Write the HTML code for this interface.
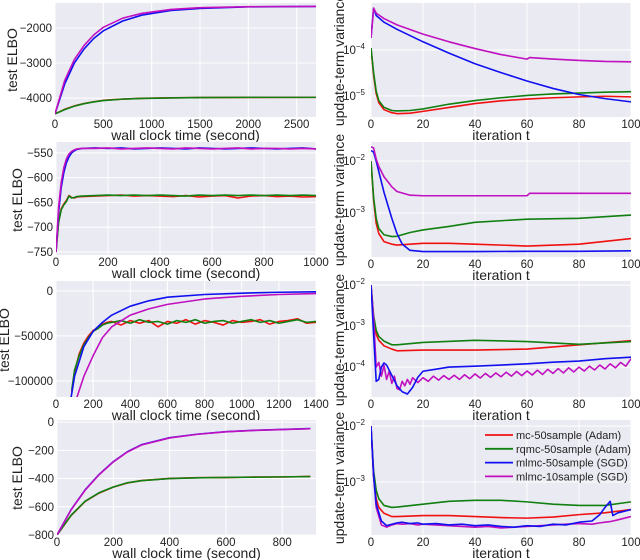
<!DOCTYPE html>
<html><head><meta charset="utf-8"><style>
body{margin:0;background:#fff;}
svg{display:block;font-family:"Liberation Sans",sans-serif;}
</style></head><body>
<svg id="fig" width="640" height="560" viewBox="0 0 640 560" xmlns="http://www.w3.org/2000/svg"></svg>
<script>
// ---------- Panel 1 (left, row 1) ----------
const p1T = [0,100,200,300,400,500,700,900,1200,1500,2000,2700];
const p1Magenta = [-4450,-3500,-2900,-2500,-2200,-1980,-1720,-1580,-1470,-1420,-1390,-1385];
const p1Blue = [-4450,-3600,-3000,-2600,-2300,-2080,-1800,-1630,-1500,-1440,-1395,-1385];
const p1Green = [-4450,-4330,-4230,-4160,-4110,-4070,-4030,-4010,-3995,-3985,-3980,-3980];
const p1Red = [-4450,-4320,-4225,-4155,-4105,-4065,-4028,-4008,-3993,-3984,-3981,-3980];
const p1XTicks = [0,500,1000,1500,2000,2500];
const p1YTicks = [-4000,-3000,-2000];
// ---------- Panel 2 ----------
const p2T = [0,10,20,30,40,50,60,70,80,100,150,200,250,300,350,400,450,500,550,600,650,700,750,800,850,900,950,1000];
const p2Magenta = [-750,-660,-610,-580,-562,-552,-547,-544,-542,-541,-541,-540,-542,-541,-540,-541,-542,-540,-541,-542,-541,-540,-542,-541,-541,-542,-541,-542];
const p2Blue = [-750,-670,-620,-590,-570,-558,-550,-546,-543,-541,-540,-541,-540,-542,-541,-540,-541,-542,-540,-541,-542,-541,-540,-541,-542,-541,-540,-542];
const p2Green = [-750,-690,-665,-655,-648,-637,-641,-640,-638,-637,-636,-635,-636,-635,-636,-635,-636,-637,-635,-636,-635,-636,-635,-636,-635,-636,-635,-636];
const p2Red = [-750,-688,-663,-653,-646,-636,-640,-641,-639,-638,-637,-636,-635,-637,-636,-637,-638,-636,-639,-637,-636,-641,-637,-636,-638,-637,-639,-638];
const p2XTicks = [0,200,400,600,800,1000];
const p2YTicks = [-750,-700,-650,-600,-550];
// ---------- Panel 3 ----------
const p3TBlue = [80,100,150,200,250,300,400,500,600,800,1000,1200,1400];
const p3Blue = [-120000,-95000,-62000,-45000,-35000,-27000,-17000,-11000,-7000,-4000,-2500,-1500,-1000];
const p3TMagenta = [110,150,200,250,300,400,500,600,800,1000,1200,1400];
const p3Magenta = [-120000,-95000,-72000,-52000,-40000,-27000,-20000,-15000,-9000,-6000,-4000,-3000];
const p3TNoisy = [85,100,125,150,175,200,225,250,275,300,350,400,450,500,550,600,650,700,750,800,850,900,950,1000,1050,1100,1150,1200,1250,1300,1350,1400];
const p3Green = [-110000,-88000,-72000,-60000,-52000,-45000,-42000,-38000,-36000,-35000,-33000,-36000,-32000,-35000,-34000,-37000,-33000,-35000,-32000,-36000,-34000,-33000,-36000,-34000,-32000,-35000,-33000,-36000,-34000,-32000,-35000,-34000];
const p3Red = [-112000,-90000,-70000,-58000,-50000,-44000,-41000,-37000,-35000,-34000,-38000,-33000,-36000,-33000,-40000,-34000,-36000,-32000,-37000,-33000,-35000,-38000,-33000,-35000,-34000,-32000,-37000,-34000,-33000,-31000,-36000,-35000];
const p3XTicks = [0,200,400,600,800,1000,1200,1400];
const p3YTicks = [-100000,-50000,0];
// ---------- Panel 4 ----------
const p4T = [0,50,100,150,200,250,300,400,500,600,700,800,900];
const p4Blue = [-800,-620,-480,-370,-280,-210,-160,-110,-85,-68,-58,-52,-46];
const p4Magenta = [-800,-622,-482,-372,-282,-212,-162,-112,-86,-69,-59,-53,-47];
const p4Green = [-800,-660,-560,-500,-460,-430,-415,-400,-395,-392,-390,-388,-386];
const p4Red = [-800,-662,-562,-502,-461,-431,-414,-399,-394,-393,-389,-389,-385];
const p4XTicks = [0,200,400,600,800];
const p4YTicks = [-800,-600,-400,-200,0];
// ---------- Right panels (variance, log scale) ----------
const r1TM = [0,1,2,5,10,20,30,40,50,60,61,70,80,90,100];
const r1Magenta = [1.82e-4,8.1e-4,6.3e-4,4.8e-4,3.5e-4,2.2e-4,1.5e-4,1.07e-4,7.9e-5,6.3e-5,6.8e-5,6.3e-5,5.9e-5,5.6e-5,5.5e-5];
const r1TB = [0,1,2,5,10,20,30,40,50,60,70,80,90,100];
const r1Blue = [1.82e-4,8.1e-4,5.6e-4,4.0e-4,2.8e-4,1.5e-4,8.5e-5,5.0e-5,3.2e-5,2.1e-5,1.45e-5,1.07e-5,8.7e-6,7.4e-6];
const r1TG = [0,1,2,3,5,8,10,15,20,30,40,50,60,70,80,90,100];
const r1Green = [1.1e-4,3.2e-5,1.26e-5,7.9e-6,5.6e-6,4.8e-6,4.7e-6,4.8e-6,5.2e-6,6.6e-6,7.9e-6,9.1e-6,1.02e-5,1.1e-5,1.15e-5,1.2e-5,1.23e-5];
const r1Red = [1.1e-4,2.8e-5,1.12e-5,7.1e-6,5.0e-6,4.3e-6,4.1e-6,4.2e-6,4.6e-6,5.6e-6,6.8e-6,7.8e-6,8.5e-6,9.1e-6,9.5e-6,9.8e-6,9.5e-6];
const r1YTicks = [-5,-4];

const r2TM = [0,1,2,3,5,8,10,15,20,40,60,61,80,100];
const r2Magenta = [1.9e-2,1.8e-2,1.1e-2,7.9e-3,5.0e-3,3.2e-3,2.6e-3,2.2e-3,2.15e-3,2.15e-3,2.15e-3,2.4e-3,2.4e-3,2.4e-3];
const r2TB = [0,1,2,5,8,10,12,15,20,40,60,80,100];
const r2Blue = [1.6e-2,1.5e-2,1e-2,2.5e-3,7.9e-4,4.0e-4,2.5e-4,1.9e-4,1.8e-4,1.8e-4,1.82e-4,1.82e-4,1.86e-4];
const r2TG = [0,1,2,3,5,8,10,15,20,30,40,60,80,100];
const r2Green = [1e-2,2e-3,7.9e-4,5e-4,3.8e-4,3.5e-4,3.55e-4,4.2e-4,4.7e-4,5.5e-4,6.6e-4,7.6e-4,7.9e-4,9.1e-4];
const r2Red = [1e-2,1.8e-3,6.3e-4,4e-4,2.8e-4,2.5e-4,2.4e-4,2.5e-4,2.6e-4,2.6e-4,2.5e-4,2.3e-4,2.5e-4,3.2e-4];
const r2YTicks = [-3,-2];

const r3TRG = [0,1,2,3,5,8,10,20,40,60,80,100];
const r3Red = [1e-2,1.6e-3,6.3e-4,4.5e-4,3.3e-4,2.75e-4,2.5e-4,2.6e-4,2.6e-4,2.75e-4,3.5e-4,4.4e-4];
const r3Green = [1e-2,1.8e-3,7.9e-4,5.6e-4,4.3e-4,3.5e-4,3.5e-4,4e-4,4.5e-4,4.2e-4,3.6e-4,4.2e-4];
const r3TB = [0,1,2,3,4,5,6,8,10,12,14,16,18,20,25,30,40,50,60,70,80,90,100];
const r3Blue = [1e-2,6.3e-4,4.5e-5,5e-5,1e-4,1.26e-4,1.12e-4,6.3e-5,3.5e-5,2.5e-5,2.2e-5,3.2e-5,5.6e-5,7.9e-5,8.9e-5,1e-4,1.05e-4,1.12e-4,1.2e-4,1.32e-4,1.4e-4,1.6e-4,1.74e-4];
const r3TM = [0,1,2,3,4,5,6,7,8,9,10,11,12,13,14,15,16,18,20,22,24,26,28,30,32,34,36,38,40,42,44,46,48,50,52,54,56,58,60,62,64,66,68,70,72,74,76,78,80,82,84,86,88,90,92,94,96,98,100];
const r3Magenta = [1e-2,1.6e-3,1e-4,1.3e-4,6e-5,1.1e-4,5e-5,8e-5,4e-5,6e-5,3e-5,2.8e-5,4.5e-5,3.5e-5,5e-5,3.8e-5,5.5e-5,4.2e-5,5.5e-5,4.5e-5,6e-5,4.8e-5,6.2e-5,5e-5,6.3e-5,5e-5,6.5e-5,5.2e-5,6.8e-5,5.4e-5,7e-5,5.6e-5,7.2e-5,5.8e-5,7.5e-5,6e-5,7.8e-5,6.2e-5,8e-5,6.4e-5,8.4e-5,6.6e-5,8.8e-5,7e-5,9.2e-5,7.2e-5,9.6e-5,7.6e-5,1e-4,8e-5,1.05e-4,8.5e-5,1.12e-4,9e-5,1.2e-4,9.6e-5,1.3e-4,1.05e-4,1.6e-4];
const r3YTicks = [-4,-3,-2];

const r4TRG = [0,1,2,3,5,8,10,20,30,40,50,60,70,80,90,100];
const r4Green = [1e-2,1.6e-3,7.1e-4,5e-4,3.8e-4,3.5e-4,3.55e-4,4e-4,4.5e-4,4.7e-4,4.7e-4,4.4e-4,4e-4,3.8e-4,3.8e-4,4.4e-4];
const r4Red = [1e-2,1.26e-3,5e-4,3.5e-4,2.75e-4,2.4e-4,2.4e-4,2.5e-4,2.5e-4,2.4e-4,2.3e-4,2.25e-4,2.35e-4,2.6e-4,2.8e-4,3.2e-4];
const r4TBM = [0,1,2,4,6,8,10,12,15,18,20,25,30,35,40,45,50,55,60,65,70,75,80,85,88,90,92,93,95,100];
const r4Blue = [1e-2,1.3e-3,4e-4,2e-4,1.65e-4,1.75e-4,1.85e-4,1.9e-4,1.8e-4,1.85e-4,1.75e-4,1.8e-4,1.7e-4,1.75e-4,1.65e-4,1.7e-4,1.6e-4,1.55e-4,1.65e-4,1.6e-4,1.75e-4,1.7e-4,1.9e-4,2e-4,2.6e-4,3.5e-4,4.5e-4,2.5e-4,2.8e-4,3.2e-4];
const r4Magenta = [1e-2,1.3e-3,3.5e-4,1.7e-4,1.55e-4,1.7e-4,1.8e-4,1.75e-4,1.8e-4,1.7e-4,1.75e-4,1.7e-4,1.65e-4,1.6e-4,1.55e-4,1.6e-4,1.5e-4,1.55e-4,1.6e-4,1.65e-4,1.7e-4,1.75e-4,1.8e-4,1.75e-4,1.85e-4,1.9e-4,1.95e-4,2.0e-4,2.1e-4,2.4e-4];
const r4YTicks = [-3,-2];
const iterTicks = [0,20,40,60,80,100];
const legendLabels = ["mc-50sample (Adam)","rqmc-50sample (Adam)","mlmc-50sample (SGD)","mlmc-10sample (SGD)"];

const COL = {red:"#f01010",green:"#108010",blue:"#1010f0",magenta:"#c010c0"};
const NS = "http://www.w3.org/2000/svg";
const svg = document.getElementById('fig');
let clipN = 0;
function mk(tag, attrs, parent){
  const e = document.createElementNS(NS, tag);
  for (const k in attrs) e.setAttribute(k, attrs[k]);
  (parent||svg).appendChild(e);
  return e;
}
function txt(x,y,s,anchor,size,parent,rot){
  const t = mk('text',{x:x,y:y,'font-size':size||11,'text-anchor':anchor||'middle',fill:'#222'},parent);
  if (rot) t.setAttribute('transform','rotate(-90 '+x+' '+y+')');
  t.textContent = s;
  return t;
}
function panel(name, box, xmin, xmax, ymin, ymax, isLog){
  const g = mk('g',{});
  
  
  const bg = mk('rect',{x:box.x0,y:box.y0,width:box.x1-box.x0,height:box.y1-box.y0,fill:'#eaeaf2'},g);
  
  
  const cid = 'clip'+(clipN++);
  const cp = mk('clipPath',{id:cid},g);
  mk('rect',{x:box.x0,y:box.y0,width:box.x1-box.x0,height:box.y1-box.y0},cp);
  const sx = v => box.x0 + (v-xmin)/(xmax-xmin)*(box.x1-box.x0);
  const sy = isLog ? (v => box.y1 - (Math.log10(v)-ymin)/(ymax-ymin)*(box.y1-box.y0))
                   : (v => box.y1 - (v-ymin)/(ymax-ymin)*(box.y1-box.y0));
  const syExp = e => box.y1 - (e-ymin)/(ymax-ymin)*(box.y1-box.y0);
  return {g, sx, sy, syExp, box, cid};
}
function xTicks(P, ticks, labelName){
  ticks.forEach(v=>{
    const x = P.sx(v);
    mk('line',{x1:x,x2:x,y1:P.box.y0,y2:P.box.y1,stroke:'#fff','stroke-width':1},P.g);
    const t = txt(x, P.box.y1+11, String(v), 'middle', 11.5, P.g);
    
    
  });
  const l = txt((P.box.x0+P.box.x1)/2, P.box.y1+23, labelName, 'middle', 14, P.g);
  
  
}
function yTicks(P, ticks){
  ticks.forEach(v=>{
    const y = P.sy(v);
    mk('line',{x1:P.box.x0,x2:P.box.x1,y1:y,y2:y,stroke:'#fff','stroke-width':1},P.g);
    const t = txt(P.box.x0-3, y+4, String(v).replace('-','\u2212'), 'end', 11.5, P.g);
    
    
  });
}
function yLogTicks(P, exps){
  exps.forEach(e=>{
    const y = P.syExp(e);
    mk('line',{x1:P.box.x0,x2:P.box.x1,y1:y,y2:y,stroke:'#fff','stroke-width':1},P.g);
    const t = mk('text',{x:P.box.x0-6,y:y+4,'font-size':11.5,'text-anchor':'end',fill:'#222'},P.g);
    
    
    t.appendChild(document.createTextNode('10'));
    const sp = document.createElementNS(NS,'tspan');
    sp.setAttribute('dy','-5'); sp.setAttribute('font-size','8');
    sp.textContent = '\u2212'+Math.abs(e);
    t.appendChild(sp);
  });
}
function series(P, xs, ys, color, name){
  const pts = xs.map((x,i)=>P.sx(x).toFixed(2)+','+P.sy(ys[i]).toFixed(2)).join(' ');
  const pl = mk('polyline',{points:pts,fill:'none',stroke:color,'stroke-width':1.6,'stroke-linejoin':'round','clip-path':'url(#'+P.cid+')'},P.g);
  
  
}
function yTitle(x, yc, s){
  const t = txt(x, yc, s, 'middle', 14, svg, true);
  
  
}

// Left panels
const L1 = panel('elbo-panel-1',{x0:55,x1:316,y0:3,y1:117},0,2700,-4540,-1286,false);
xTicks(L1,p1XTicks,'wall clock time (second)'); yTicks(L1,p1YTicks);
series(L1,p1T,p1Red,COL.red,'line-mc-50sample');
series(L1,p1T,p1Green,COL.green,'line-rqmc-50sample');
series(L1,p1T,p1Blue,COL.blue,'line-mlmc-50sample');
series(L1,p1T,p1Magenta,COL.magenta,'line-mlmc-10sample');
yTitle(17,60,'test ELBO');

const L2 = panel('elbo-panel-2',{x0:56,x1:316,y0:142,y1:255},0,1000,-756,-528,false);
xTicks(L2,p2XTicks,'wall clock time (second)'); yTicks(L2,p2YTicks);
series(L2,p2T,p2Red,COL.red,'line-mc-50sample');
series(L2,p2T,p2Green,COL.green,'line-rqmc-50sample');
series(L2,p2T,p2Blue,COL.blue,'line-mlmc-50sample');
series(L2,p2T,p2Magenta,COL.magenta,'line-mlmc-10sample');
yTitle(22,200,'test ELBO');

const L3 = panel('elbo-panel-3',{x0:56,x1:316,y0:281,y1:397},0,1400,-118000,11000,false);
xTicks(L3,p3XTicks,'wall clock time (second)'); yTicks(L3,p3YTicks);
series(L3,p3TNoisy,p3Red,COL.red,'line-mc-50sample');
series(L3,p3TNoisy,p3Green,COL.green,'line-rqmc-50sample');
series(L3,p3TMagenta,p3Magenta,COL.magenta,'line-mlmc-10sample');
series(L3,p3TBlue,p3Blue,COL.blue,'line-mlmc-50sample');
yTitle(9,340,'test ELBO');

const L4 = panel('elbo-panel-4',{x0:57,x1:316,y0:420,y1:535},0,920,-800,15,false);
xTicks(L4,p4XTicks,'wall clock time (second)'); yTicks(L4,p4YTicks);
series(L4,p4T,p4Red,COL.red,'line-mc-50sample');
series(L4,p4T,p4Green,COL.green,'line-rqmc-50sample');
series(L4,p4T,p4Blue,COL.blue,'line-mlmc-50sample');
series(L4,p4T,p4Magenta,COL.magenta,'line-mlmc-10sample');
yTitle(22,478,'test ELBO');

// Right panels
const R1 = panel('variance-panel-1',{x0:371,x1:631,y0:3,y1:117},0,100,-5.46,-2.98,true);
xTicks(R1,iterTicks,'iteration t'); yLogTicks(R1,r1YTicks);
series(R1,r1TG,r1Red,COL.red,'line-mc-50sample');
series(R1,r1TG,r1Green,COL.green,'line-rqmc-50sample');
series(R1,r1TB,r1Blue,COL.blue,'line-mlmc-50sample');
series(R1,r1TM,r1Magenta,COL.magenta,'line-mlmc-10sample');
yTitle(344,60,'update-term variance');

const R2 = panel('variance-panel-2',{x0:371,x1:631,y0:142,y1:257},0,100,-3.85,-1.63,true);
xTicks(R2,iterTicks,'iteration t'); yLogTicks(R2,r2YTicks);
series(R2,r2TG,r2Red,COL.red,'line-mc-50sample');
series(R2,r2TG,r2Green,COL.green,'line-rqmc-50sample');
series(R2,r2TB,r2Blue,COL.blue,'line-mlmc-50sample');
series(R2,r2TM,r2Magenta,COL.magenta,'line-mlmc-10sample');
yTitle(344,200,'update-term variance');

const R3 = panel('variance-panel-3',{x0:371,x1:631,y0:281,y1:397},0,100,-4.73,-1.9,true);
xTicks(R3,iterTicks,'iteration t'); yLogTicks(R3,r3YTicks);
series(R3,r3TRG,r3Red,COL.red,'line-mc-50sample');
series(R3,r3TRG,r3Green,COL.green,'line-rqmc-50sample');
series(R3,r3TM,r3Magenta,COL.magenta,'line-mlmc-10sample');
series(R3,r3TB,r3Blue,COL.blue,'line-mlmc-50sample');
yTitle(344,340,'update-term variance');

const R4 = panel('variance-panel-4',{x0:371,x1:631,y0:420,y1:535},0,100,-3.95,-1.89,true);
xTicks(R4,iterTicks,'iteration t'); yLogTicks(R4,r4YTicks);
series(R4,r4TRG,r4Red,COL.red,'line-mc-50sample');
series(R4,r4TRG,r4Green,COL.green,'line-rqmc-50sample');
series(R4,r4TBM,r4Magenta,COL.magenta,'line-mlmc-10sample');
series(R4,r4TBM,r4Blue,COL.blue,'line-mlmc-50sample');
yTitle(344,478,'update-term variance');

// Legend
const lg = mk('g',{});


const lcols = [COL.red,COL.green,COL.blue,COL.magenta];
legendLabels.forEach((s,i)=>{
  const y = 435 + i*13.8;
  const e = mk('g',{},lg);
  
  
  mk('line',{x1:485,x2:513,y1:y,y2:y,stroke:lcols[i],'stroke-width':1.8},e);
  txt(516,y+4,s,'start',11,e);
});
</script>
</body></html>
